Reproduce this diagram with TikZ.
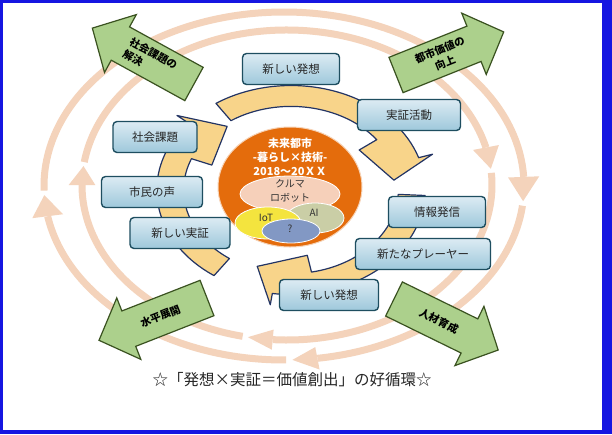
\documentclass[tikz,border=0pt]{standalone}
\usepackage{fontspec}
\setmainfont{Noto Sans CJK JP}
\usetikzlibrary{calc}
\definecolor{frameblue}{RGB}{22,22,225}
\definecolor{ringpeach}{RGB}{244,211,187}
\definecolor{leafgreen}{RGB}{172,208,140}
\definecolor{leafline}{RGB}{58,82,32}
\definecolor{cycfill}{RGB}{248,212,138}
\definecolor{cycline}{RGB}{35,52,100}
\definecolor{boxtop}{RGB}{220,235,243}
\definecolor{boxbot}{RGB}{158,200,219}
\definecolor{boxline}{RGB}{30,78,96}
\definecolor{coreorange}{RGB}{228,108,12}
\definecolor{carpeach}{RGB}{246,208,186}
\definecolor{iotyellow}{RGB}{244,228,62}
\definecolor{aisage}{RGB}{202,206,166}
\definecolor{qblue}{RGB}{130,152,196}

% green block arrow: tail, heading, text options, name, text
\newcommand{\leafarrow}[5]{%
  \begin{scope}[shift={#1}, rotate=#2]
    \filldraw[leaf] (0,-19) -- (84,-19) -- (84,-33) -- (116,0) -- (84,33) -- (84,19) -- (0,19) -- cycle;
    \node[leaftext, #3] (#4) at (50,0) {#5};
  \end{scope}}
% yellow cycle arrow: tail, outer barb, inner barb, tip (angles)
\newcommand{\cyclearrow}[4]{%
  \filldraw[cyc] (#1:1.1) arc[start angle=#1, end angle=#2, radius=1.1] -- (#2:1.22) -- (#4:0.85)
    -- (#3:0.7) -- (#3:0.88) arc[start angle=#3, end angle=#1, radius=0.88] -- cycle;}
% ring arrowhead: base, apex (angles)
\newcommand{\ringtip}[2]{%
  \fill[ringpeach] (#1:0.935) -- (#1:1.065) -- (#2:1) -- cycle;}

\begin{document}
\begin{tikzpicture}[
  x=1pt, y=-1pt,
  ring/.style={draw=ringpeach, line width=7pt},
  leaf/.style={fill=leafgreen, draw=leafline, line width=1.2pt, line join=miter},
  leaftext/.style={font=\bfseries\fontsize{10.5}{14}\selectfont, align=center, inner sep=0pt},
  cyc/.style={fill=cycfill, draw=cycline, line width=1.2pt, line join=round},
  box/.style={draw=boxline, line width=1.4pt, rounded corners=4pt, top color=boxtop,
              bottom color=boxbot, minimum height=31pt, inner sep=2pt,
              font=\fontsize{11.5}{13}\selectfont, text=black!85},
  blob/.style={draw=white, line width=0.8pt},
  blobtext/.style={font=\fontsize{10}{13.5}\selectfont, align=center, inner sep=0pt, text=black!80}
]
\useasboundingbox (0,0) rectangle (612,434);
\fill[frameblue] (0,0) rectangle (612,434);
\fill[white] (3,3) rectangle (602,430);

% outer ring
\begin{scope}[shift={(284,186)}, x=240pt, y=174pt]
  \draw[ring] (181.5:1) arc[start angle=181.5, end angle=3, radius=1];
  \draw[ring] (-6.5:1) arc[start angle=-6.5, end angle=-82, radius=1];
  \draw[ring] (-89.5:1) arc[start angle=-89.5, end angle=-170, radius=1];
  \ringtip{190}{183}
  \ringtip{3}{-5}
  \ringtip{-82}{-88}
\end{scope}
% inner ring
\begin{scope}[shift={(287,185)}, x=205pt, y=155pt]
  \draw[ring] (171.5:1) arc[start angle=171.5, end angle=14, radius=1];
  \draw[ring] (4.5:1) arc[start angle=4.5, end angle=-94, radius=1];
  \draw[ring] (-102.5:1) arc[start angle=-102.5, end angle=-180, radius=1];
  \ringtip{180}{173}
  \ringtip{14}{6}
  \ringtip{-94}{-101}
\end{scope}

\leafarrow{(194,84)}{151.2}{rotate=-28.8, align=left}{solve}{社会課題の\\解決}
\leafarrow{(396,75)}{21.8}{rotate=21.8}{value}{都市価値の\\向上}
\leafarrow{(207,298)}{201.4}{rotate=21.4}{spread}{水平展開}
\leafarrow{(394,299)}{-26.1}{rotate=-26.1}{people}{人材育成}

% cycle
\begin{scope}[shift={(291,190)}, x=122pt, y=95pt]
  \cyclearrow{235}{140}{158}{128}
  \cyclearrow{124}{18}{37}{7}
  \cyclearrow{-3}{-98}{-79}{-109}
\end{scope}

% core
\filldraw[fill=coreorange, draw=white!70!coreorange, line width=1pt] (290,187) ellipse [x radius=72, y radius=60];
\filldraw[blob, fill=carpeach] (290,194) ellipse [x radius=50, y radius=18];
\filldraw[blob, fill=aisage] (315,218) ellipse [x radius=29, y radius=15];
\filldraw[blob, fill=iotyellow] (268,223) ellipse [x radius=33, y radius=16];
\filldraw[blob, fill=qblue] (291,231) ellipse [x radius=29, y radius=12];
\node[font=\bfseries\fontsize{11}{14}\selectfont, text=white, align=center, inner sep=0pt] (core) at (290,157) {未来都市\\-暮らし×技術-\\2018～20ＸＸ};
\node[blobtext] (car) at (290,191) {クルマ\\ロボット};
\node[blobtext] (iot) at (266,218) {IoT};
\node[blobtext] (ai) at (314,213) {AI};
\node[blobtext] (open) at (290,229) {?};

\node[box, minimum width=97pt] (idea) at (291,69) {新しい発想};
\node[box, minimum width=103pt] (trial) at (409,115) {実証活動};
\node[box, minimum width=97pt] (news) at (437,212) {情報発信};
\node[box, minimum width=135pt] (player) at (423,254) {新たなプレーヤー};
\node[box, minimum width=99pt] (idea2) at (329,295) {新しい発想};
\node[box, minimum width=84pt] (issue) at (155,137) {社会課題};
\node[box, minimum width=101pt] (voice) at (152,192) {市民の声};
\node[box, minimum width=100pt] (newtrial) at (180,233) {新しい実証};

\node[font=\fontsize{15.5}{18}\selectfont, text=black!85] (motto) at (292,380) {☆「発想×実証＝価値創出」の好循環☆};
\end{tikzpicture}
\end{document}
